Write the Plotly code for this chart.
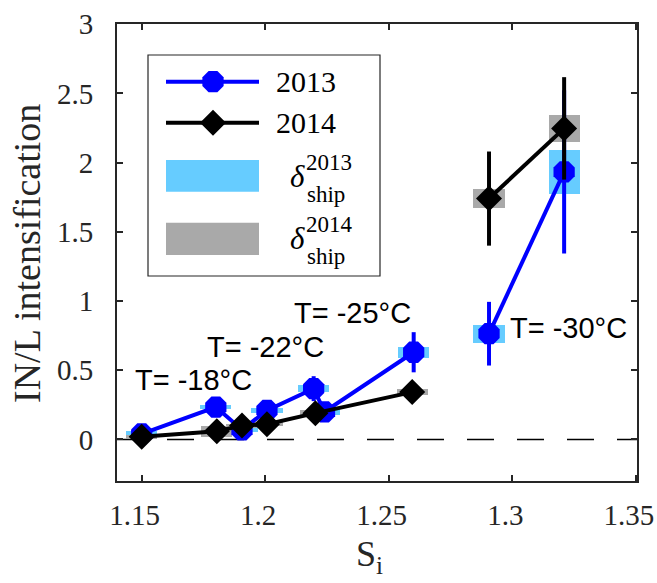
import plotly.graph_objects as go

# ---- data ----
x2013 = [1.150, 1.1800, 1.1906, 1.2007, 1.2196, 1.2240, 1.2601, None, 1.2906, 1.3210]
y2013 = [0.040, 0.234, 0.070, 0.210, 0.367, 0.200, 0.630, None, 0.764, 1.933]
err2013 = [0.02, 0.02, 0.02, 0.02, 0.09, 0.02, 0.145, 0, 0.23, 0.59]
ship2013 = [0.02, 0.015, 0.015, 0.02, 0.025, 0.02, 0.04, 0, 0.065, 0.157]

x2014 = [1.150, 1.1804, 1.1906, 1.2007, 1.2203, 1.2595, None, 1.2906, 1.3210]
y2014 = [0.020, 0.060, 0.100, 0.110, 0.190, 0.342, None, 1.740, 2.247]
err2014 = [0.02, 0.02, 0.02, 0.02, 0.03, 0.03, 0, 0.34, 0.37]
ship2014 = [0.015, 0.04, 0.015, 0.015, 0.02, 0.02, 0, 0.07, 0.097]

temp_labels = ["T= -18°C", "T= -22°C", "T= -25°C", "T= -30°C"]
temp_x = [1.1711, 1.2000, 1.2353, 1.3229]
temp_y = [0.43, 0.667, 0.911, 0.803]

xticks = [1.15, 1.2, 1.25, 1.3, 1.35]
xtick_text = ["1.15", "1.2", "1.25", "1.3", "1.35"]
yticks = [0, 0.5, 1, 1.5, 2, 2.5, 3]
ytick_text = ["0", "0.5", "1", "1.5", "2", "2.5", "3"]

BLUE = "#0000FF"
LBLUE = "#66CCFF"
GREY = "#A9A9A9"
AX = "#262626"
SERIF = "Liberation Serif"
SANS = "Liberation Sans"


def rect_bars(xs, ys, hs):
    bx, by, bb = [], [], []
    for x, y, h in zip(xs, ys, hs):
        if x is None:
            continue
        bx.append(x)
        by.append(2 * h)
        bb.append(y - h)
    return bx, by, bb


fig = go.Figure()

# ship-effect rectangles
bx, by, bb = rect_bars(x2013, y2013, ship2013)
fig.add_trace(go.Bar(x=bx, y=by, base=bb, width=0.0126,
                     marker=dict(color=LBLUE, line=dict(width=0)),
                     showlegend=False, hoverinfo="skip"))
bx, by, bb = rect_bars(x2014, y2014, ship2014)
fig.add_trace(go.Bar(x=bx, y=by, base=bb, width=0.0126,
                     marker=dict(color=GREY, line=dict(width=0)),
                     showlegend=False, hoverinfo="skip"))

fig.add_trace(go.Scatter(
    x=x2013, y=y2013, mode="lines+markers", connectgaps=False,
    line=dict(color=BLUE, width=4),
    marker=dict(symbol="octagon", size=23, color=BLUE, line=dict(width=0)),
    error_y=dict(type="data", array=err2013, color=BLUE, thickness=4, width=0),
    showlegend=False))
fig.add_trace(go.Scatter(
    x=x2014, y=y2014, mode="lines+markers", connectgaps=False,
    line=dict(color="black", width=4),
    marker=dict(symbol="diamond", size=20, color="black", line=dict(width=0)),
    error_y=dict(type="data", array=err2014, color="black", thickness=4, width=0),
    showlegend=False))

# custom legend drawn in a pixel-space overlay axis
W, H = 657, 583
L, R, T, B = 117, 637, 24, 481


def px(x):
    return (x - L) / (R - L)


def py(y):
    return (B - y) / (B - T)


fig.add_trace(go.Scatter(x=[166, 259], y=[81.7, 81.7], mode="lines",
                         line=dict(color=BLUE, width=4), xaxis="x2", yaxis="y2",
                         showlegend=False, hoverinfo="skip"))
fig.add_trace(go.Scatter(x=[213], y=[81.7], mode="markers",
                         marker=dict(symbol="octagon", size=23, color=BLUE),
                         xaxis="x2", yaxis="y2", showlegend=False, hoverinfo="skip"))
fig.add_trace(go.Scatter(x=[166, 259], y=[122.7, 122.7], mode="lines",
                         line=dict(color="black", width=4), xaxis="x2", yaxis="y2",
                         showlegend=False, hoverinfo="skip"))
fig.add_trace(go.Scatter(x=[213], y=[122.7], mode="markers",
                         marker=dict(symbol="diamond", size=20, color="black"),
                         xaxis="x2", yaxis="y2", showlegend=False, hoverinfo="skip"))

shapes = [
    dict(type="line", xref="paper", yref="y", x0=0, x1=1, y0=0, y1=0,
         line=dict(color="black", width=1.5, dash="27px,23px"), layer="below"),
    dict(type="rect", xref="x2", yref="y2", x0=148, x1=380, y0=55, y1=276,
         fillcolor="white", line=dict(color=AX, width=1.2), layer="below"),
    dict(type="rect", xref="x2", yref="y2", x0=166, x1=259, y0=160, y1=191.7,
         fillcolor=LBLUE, line=dict(width=0), layer="below"),
    dict(type="rect", xref="x2", yref="y2", x0=166, x1=259, y0=222.7, y1=255,
         fillcolor=GREY, line=dict(width=0), layer="below"),
]

ann = []
for t, xx, yy in zip(temp_labels, temp_x, temp_y):
    ann.append(dict(x=xx, y=yy, xref="x", yref="y", text=t, showarrow=False,
                    xanchor="center", yanchor="middle",
                    font=dict(family=SANS, size=29, color="black")))
for txt, yy in [("2013", 81.7), ("2014", 122.7)]:
    ann.append(dict(x=274, y=yy, xref="x2", yref="y2", text=txt, showarrow=False,
                    xanchor="left", yanchor="middle",
                    font=dict(family=SERIF, size=30, color="black")))
for sup, yd in [("2013", 176.7), ("2014", 238)]:
    ann.append(dict(x=297, y=yd, xref="x2", yref="y2", text="<i>δ</i>", showarrow=False,
                    xanchor="center", yanchor="middle",
                    font=dict(family=SERIF, size=31, color="black")))
    ann.append(dict(x=304, y=yd - 14, xref="x2", yref="y2", text=sup, showarrow=False,
                    xanchor="left", yanchor="middle",
                    font=dict(family=SERIF, size=23, color="black")))
    ann.append(dict(x=305, y=yd + 18, xref="x2", yref="y2", text="ship", showarrow=False,
                    xanchor="left", yanchor="middle",
                    font=dict(family=SERIF, size=23, color="black")))

# axis titles (paper coordinates, outside the plot area)
ann.append(dict(x=px(27), y=py(254), xref="paper", yref="paper",
                text="IN/L intensification",
                showarrow=False, textangle=-90, xanchor="center", yanchor="middle",
                font=dict(family=SERIF, size=38, color=AX)))
ann.append(dict(x=px(369), y=py(556), xref="paper", yref="paper", text="S<sub>i</sub>",
                showarrow=False, xanchor="center", yanchor="middle",
                font=dict(family=SERIF, size=36, color=AX)))

fig.update_layout(
    width=W, height=H,
    margin=dict(l=L, r=W - R, t=T, b=H - B, pad=0, autoexpand=False),
    paper_bgcolor="white", plot_bgcolor="white",
    barmode="overlay", bargap=0,
    showlegend=False,
    shapes=shapes, annotations=ann,
    xaxis=dict(range=[1.14, 1.3505], tickvals=xticks, ticktext=xtick_text,
               ticks="inside", ticklen=6, tickwidth=1.5, tickcolor=AX,
               showline=True, linecolor=AX, linewidth=1.8, mirror="ticks",
               showgrid=False, zeroline=False, ticklabelstandoff=7,
               ticklabelshift=-7, ticklabeloverflow="allow",
               automargin=False,
               tickfont=dict(family=SERIF, size=29, color=AX)),
    yaxis=dict(range=[-0.3, 3.001], tickvals=yticks, ticktext=ytick_text,
               ticks="inside", ticklen=6, tickwidth=1.5, tickcolor=AX,
               showline=True, linecolor=AX, linewidth=1.8, mirror="ticks",
               showgrid=False, zeroline=False, ticklabelstandoff=16,
               ticklabeloverflow="allow",
               automargin=False,
               tickfont=dict(family=SERIF, size=29, color=AX)),
    xaxis2=dict(range=[L, R], overlaying="x", anchor="y2", visible=False,
                showgrid=False, zeroline=False, automargin=False),
    yaxis2=dict(range=[B, T], overlaying="y", anchor="x2", visible=False,
                showgrid=False, zeroline=False, automargin=False),
)

fig.write_html("out.html", config={"displayModeBar": False})

# remove the browser's default page margin so the figure sits at the top-left
with open("out.html", "r", encoding="utf-8") as f:
    html = f.read()
html = html.replace("<head>", "<head><style>html,body{margin:0;padding:0;overflow:hidden;}</style>", 1)
with open("out.html", "w", encoding="utf-8") as f:
    f.write(html)
